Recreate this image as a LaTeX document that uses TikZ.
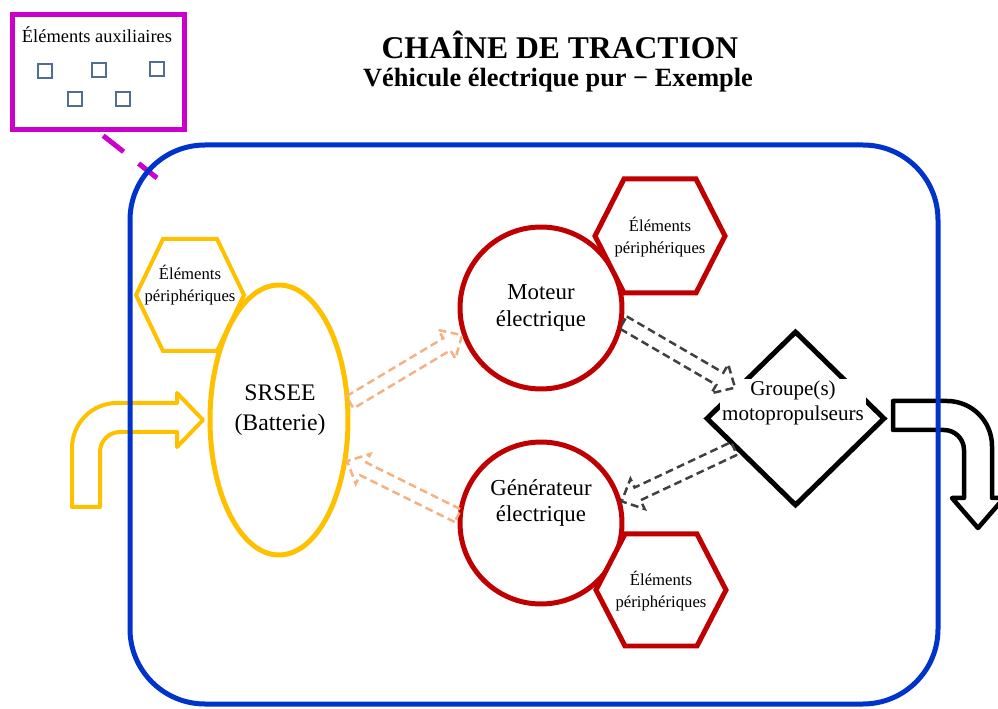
\documentclass[tikz,border=0pt]{standalone}
\usepackage{fontspec}
\setmainfont{Liberation Serif}
\usetikzlibrary{shapes.geometric,calc}

\definecolor{cadrebleu}{RGB}{0,51,204}
\definecolor{jaune}{RGB}{255,192,0}
\definecolor{rouge}{RGB}{192,0,0}
\definecolor{violet}{RGB}{204,0,204}
\definecolor{acier}{RGB}{79,109,150}
\definecolor{orangeclair}{RGB}{244,177,131}
\definecolor{grisfonce}{RGB}{64,64,64}

% fleche creuse entre deux points : style, depart, arrivee
\newcommand{\hollowarrow}[3]{%
  \draw[#1] let \p1=(#2), \p2=(#3),
    \n1={atan2(\y2-\y1,\x2-\x1)}, \n2={veclen(\x2-\x1,\y2-\y1)-10pt} in
    ($(\p1)+(\n1+90:4pt)$) -- ($(\p1)+(\n1:\n2)+(\n1+90:4pt)$)
    -- ($(\p1)+(\n1:\n2)+(\n1+90:9.5pt)$) -- (\p2)
    -- ($(\p1)+(\n1:\n2)+(\n1-90:9.5pt)$) -- ($(\p1)+(\n1:\n2)+(\n1-90:4pt)$)
    -- ($(\p1)+(\n1-90:4pt)$) -- cycle;}

\begin{document}
\begin{tikzpicture}[x=0.02cm, y=-0.02cm,
cadre/.style={draw=cadrebleu, line width=0.1cm, rounded corners=1.5cm},
auxbox/.style={draw=violet, line width=0.1cm, minimum width=3.44cm, minimum height=2.3cm},
auxlien/.style={draw=violet, line width=0.1cm, dash pattern=on 0.52cm off 0.38cm, shorten <=0.12cm},
carre/.style={draw=acier, line width=0.04cm},
titre/.style={font=\fontsize{18}{21}\selectfont\bfseries},
soustitre/.style={font=\fontsize{15}{18}\selectfont\bfseries},
petit/.style={font=\fontsize{10.5}{12}\selectfont},
hexjaune/.style={draw=jaune, line width=0.08cm},
hexrouge/.style={draw=rouge, line width=0.1cm, fill=white},
peri/.style={align=center, font=\fontsize{9.5}{12.5}\selectfont},
batterie/.style={ellipse, draw=jaune, line width=0.1cm, minimum width=2.76cm, minimum height=5.4cm},
machine/.style={circle, draw=rouge, line width=0.1cm, minimum size=3.24cm},
losange/.style={diamond, draw, line width=0.1cm, minimum width=3.58cm, minimum height=3.5cm},
texte/.style={align=center, font=\fontsize{13}{15.3}\selectfont},
gmptexte/.style={align=center, font=\fontsize{12}{14.3}\selectfont, fill=white, inner sep=1pt},
grandtexte/.style={align=center, font=\fontsize{13.5}{17}\selectfont},
entree/.style={draw=jaune, line width=0.08cm, line join=round},
sortie/.style={draw, line width=0.09cm, line join=round},
flecheorange/.style={draw=orangeclair, line width=0.05cm, dash pattern=on 4.5pt off 2.5pt},
flechenoire/.style={draw=grisfonce, line width=0.05cm, dash pattern=on 4.5pt off 2.5pt}]
\useasboundingbox (0,0) rectangle (998,709);

% titre
\node[titre] (titre) at (560,45) {CHAÎNE DE TRACTION};
\node[soustitre] (soustitre) at (558,80) {Véhicule électrique pur − Exemple};

% elements auxiliaires
\node[auxbox] (aux) at (98.5,72) {};
\node[petit] (auxtxt) at (97,35) {Éléments auxiliaires};
\foreach \x/\y in {45/71, 99/70, 157/69, 75/99, 123/99}
  \draw[carre] (\x-7,\y-7) rectangle (\x+7,\y+7);
\coordinate (coin) at (157,178);
\draw[auxlien] (aux.south) -- (coin);

% fleches d'entree et de sortie
\draw[entree] (72,507) [rounded corners=0.9cm] -- (72,403) [sharp corners] -- (177,403)
  -- (177,393) -- (203,420) -- (177,447) -- (177,432) [rounded corners=0.4cm]
  -- (100,432) [sharp corners] -- (100,507) -- cycle;
\draw[sortie] (893,401) [rounded corners=0.9cm] -- (992,401) [sharp corners] -- (992,498)
  -- (1004,498) -- (978,528) -- (952,498) -- (964,498) [rounded corners=0.4cm]
  -- (964,430) [sharp corners] -- (893,430) -- cycle;

% batterie
\node[batterie] (bat) at (279,420) {};
\node[grandtexte] (battxt) at (280,410) {SRSEE\\(Batterie)};
\draw[hexjaune, shift={(190,295)}] (-54,0) -- (-27,-56) -- (27,-56) -- (54,0) -- (27,56) -- (-27,56) -- cycle;
\node[peri] (perbat) at (190,285) {Éléments\\périphériques};

% machines electriques
\node[machine] (mot) at (541,308) {};
\node[texte] (mottxt) at (mot) {Moteur\\électrique};
\node[machine] (gen) at (541,523) {};
\node[texte] (gentxt) at (541,503) {Générateur\\électrique};
\draw[hexrouge, shift={(660,236)}] (-65,0) -- (-36,-57) -- (36,-57) -- (65,0) -- (36,57) -- (-36,57) -- cycle;
\node[peri] (permot) at (660,237) {Éléments\\périphériques};
\draw[hexrouge, shift={(661,590)}] (-65,0) -- (-36,-56) -- (36,-56) -- (65,0) -- (36,56) -- (-36,56) -- cycle;
\node[peri] (pergen) at (661,591) {Éléments\\périphériques};

% groupe motopropulseur
\node[losange] (gmp) at (795.5,418.5) {};
\node[gmptexte] (gmptxt) at (793,403) {Groupe(s)\\motopropulseurs};

% flux d'energie
\hollowarrow{flecheorange}{bat.14}{mot.199}
\hollowarrow{flecheorange}{gen.175}{bat.-31}
\hollowarrow{flechenoire}{mot.-10}{gmp.153}
\hollowarrow{flechenoire}{gmp.206}{gen.15}

% cadre du vehicule
\draw[cadre] (130,145) rectangle (938,704);
\end{tikzpicture}
\end{document}
